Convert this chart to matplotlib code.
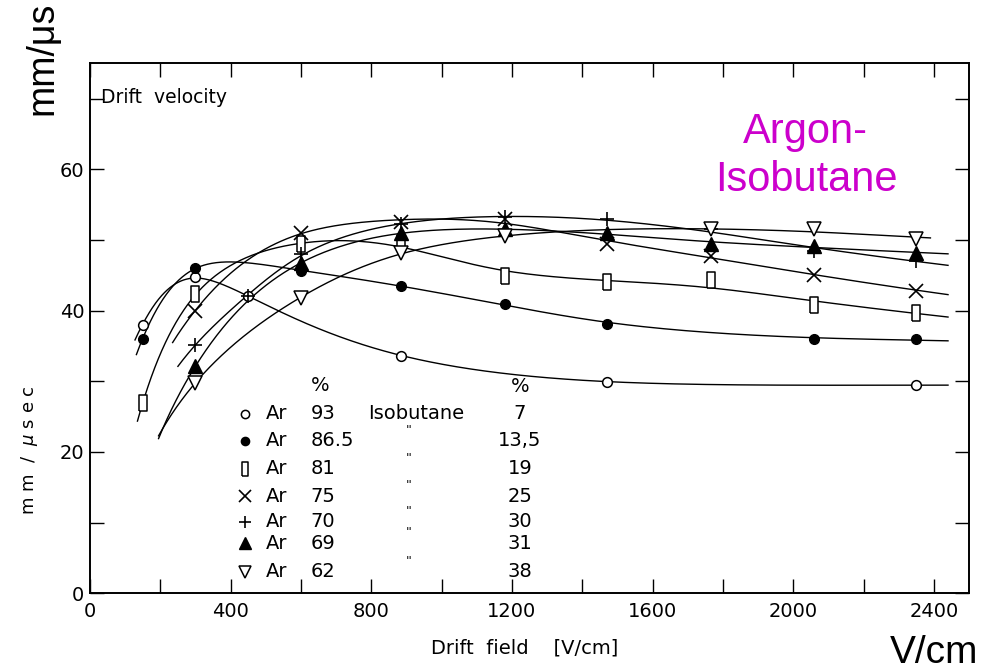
import numpy as np
import matplotlib
matplotlib.use("Agg")
import matplotlib.pyplot as plt
from matplotlib.ticker import MultipleLocator

# Electron drift velocity (mm/us) against drift field (V/cm), Ar / isobutane mixtures
ar93_field = [150, 300, 450, 885, 1470, 2350]
ar93_vel = [38.0, 44.8, 42.0, 33.6, 29.9, 29.5]

ar86_field = [150, 300, 600, 885, 1180, 1470, 2060, 2350]
ar86_vel = [36.0, 46.1, 45.6, 43.5, 41.0, 38.1, 36.0, 36.0]

ar81_field = [150, 300, 600, 885, 1180, 1470, 1765, 2060, 2350]
ar81_vel = [26.9, 42.3, 49.4, 49.6, 44.9, 44.0, 44.3, 40.8, 39.6]

ar75_field = [300, 600, 885, 1180, 1470, 1765, 2060, 2350]
ar75_vel = [40.0, 51.0, 52.6, 52.9, 49.4, 47.7, 45.1, 42.8]

ar70_field = [300, 450, 600, 885, 1180, 1470, 1765, 2060, 2350]
ar70_vel = [35.2, 42.0, 48.0, 52.3, 53.2, 52.9, 51.5, 48.5, 47.0]

ar69_field = [300, 600, 885, 1180, 1470, 1765, 2060, 2350]
ar69_vel = [32.1, 46.8, 51.0, 51.5, 51.0, 49.4, 49.1, 48.2]

ar62_field = [300, 600, 885, 1180, 1765, 2060, 2350]
ar62_vel = [29.8, 41.8, 48.2, 50.5, 51.5, 51.5, 50.1]

# mixture composition (percent)
argon_pct = ["93", "86.5", "81", "75", "70", "69", "62"]
isobutane_pct = ["7", "13,5", "19", "25", "30", "31", "38"]

# field range covered by each hand-smoothed curve
curve_lo = [128, 132, 135, 235, 250, 195, 195]
curve_hi = [2440, 2440, 2440, 2440, 2440, 2440, 2390]


def smooth_fit(field, vel, lo, hi, lam=0.0015, n=400):
    """Penalised least-squares curve in log(field), evaluated on a grid."""
    u = np.log(np.asarray(field, float))
    g = np.linspace(np.log(lo), np.log(hi), n)
    h = g[1] - g[0]
    A = np.zeros((len(u), n))
    for i, ui in enumerate(u):
        j = min(max(int((ui - g[0]) / h), 0), n - 2)
        t = (ui - g[j]) / h
        A[i, j] = 1 - t
        A[i, j + 1] = t
    D = np.diff(np.eye(n), 2, axis=0)
    M = A.T @ A + (lam / h ** 3) * (D.T @ D)
    f = np.linalg.solve(M, A.T @ np.asarray(vel, float))
    return np.exp(g), f


series = [
    (ar93_field, ar93_vel, dict(marker="o", ms=7, mfc="white", mec="black", mew=1.1)),
    (ar86_field, ar86_vel, dict(marker="o", ms=7, mfc="black", mec="black", mew=1.0)),
    (ar81_field, ar81_vel, dict(marker=[(-0.45, -1), (0.45, -1), (0.45, 1), (-0.45, 1), (-0.45, -1)],
                                ms=12, mfc="white", mec="black", mew=1.1)),
    (ar75_field, ar75_vel, dict(marker="x", ms=9.5, mec="black", mew=1.2)),
    (ar70_field, ar70_vel, dict(marker="+", ms=10, mec="black", mew=1.2)),
    (ar69_field, ar69_vel, dict(marker="^", ms=9.5, mfc="black", mec="black", mew=1.0)),
    (ar62_field, ar62_vel, dict(marker="v", ms=9.5, mfc="white", mec="black", mew=1.1)),
]

fig = plt.figure(figsize=(9.9, 6.71), dpi=100)
ax = fig.add_axes([0.0909, 0.1158, 0.888, 0.7899])

for (fld, vel, style), lo, hi in zip(series, curve_lo, curve_hi):
    xc, yc = smooth_fit(fld, vel, lo, hi)
    ax.plot(xc, yc, color="black", lw=1.0, zorder=2)
    ax.plot(fld, vel, ls="none", zorder=3, **style)

ax.set_xlim(0, 2500)
ax.set_ylim(0, 75)

ax.xaxis.set_major_locator(MultipleLocator(400))
ax.xaxis.set_minor_locator(MultipleLocator(200))
ax.yaxis.set_major_locator(MultipleLocator(20))
ax.yaxis.set_minor_locator(MultipleLocator(10))
ax.tick_params(which="both", direction="in", top=True, right=True,
               length=10, width=1.0, color="black")
ax.tick_params(axis="x", which="major", pad=6)
ax.tick_params(axis="y", which="major", pad=4)
for lab in ax.get_xticklabels() + ax.get_yticklabels():
    lab.set_fontfamily("DejaVu Sans")
    lab.set_fontsize(14)
    lab.set_color("black")
for sp in ax.spines.values():
    sp.set_linewidth(1.4)

ax.text(0.012, 0.935, "Drift  velocity", transform=ax.transAxes, fontsize=13.5,
        ha="left", va="center", family="DejaVu Sans")

# composition key
key_styles = [s for _, _, s in series]
row_y = [25.4, 21.6, 17.6, 13.7, 10.1, 7.05, 3.05]
key_font = dict(fontsize=14, family="DejaVu Sans")
ax.text(655, 29.4, "%", ha="center", va="center", **key_font)
ax.text(1222, 29.2, "%", ha="center", va="center", **key_font)
for k, (style, y, ar, iso) in enumerate(zip(key_styles, row_y, argon_pct, isobutane_pct)):
    st = dict(style)
    st["ms"] = st["ms"] * 0.85
    ax.plot([440], [y], ls="none", clip_on=False, zorder=4, **st)
    ax.text(500, y, "Ar", ha="left", va="center", **key_font)
    ax.text(628, y, ar, ha="left", va="center", **key_font)
    if k == 0:
        ax.text(790, y, "Isobutane", ha="left", va="center", **key_font)
    else:
        ax.text(906, y + 1.5, "\"", ha="center", va="center", fontsize=9,
                family="DejaVu Sans")
    ax.text(1223, y, iso, ha="center", va="center", **key_font)

fig.text(30 / 990, 1 - 450 / 671, "m m  /  $\\mu$ s e c", rotation=90, ha="center",
         va="center", fontsize=13, family="DejaVu Sans")
fig.text(525 / 990, 1 - 648 / 671, "Drift  field    [V/cm]", ha="center",
         va="center", fontsize=14, family="DejaVu Sans")

fig.text(42 / 990, 1 - 58 / 671, "mm/μs", rotation=90, ha="center", va="center",
         fontsize=27, family="Liberation Sans")
fig.text(934 / 990, 1 - 663 / 671, "V/cm", ha="center", va="baseline",
         fontsize=28, family="Liberation Sans")
fig.text(805 / 990, 1 - 132 / 671, "Argon-", ha="center", va="center",
         fontsize=30, family="Liberation Sans", color="#cc00cc")
fig.text(806 / 990, 1 - 180 / 671, "Isobutane", ha="center", va="center",
         fontsize=30, family="Liberation Sans", color="#cc00cc")

fig.savefig("out.png", dpi=100, facecolor="white")
